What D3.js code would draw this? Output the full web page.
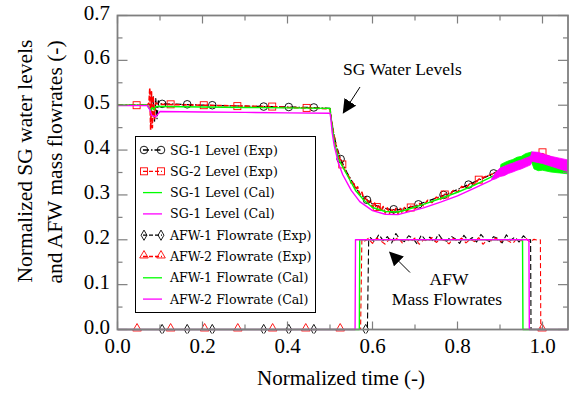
<!DOCTYPE html>
<html><head><meta charset="utf-8">
<script src="https://cdn.jsdelivr.net/npm/d3@7"></script>
<style>
html,body{margin:0;padding:0;background:#fff;}
svg{display:block;}
text{font-family:"Liberation Serif","Times New Roman",serif;fill:#000;}
text.leg{font-family:"DejaVu Serif",serif;}
</style></head>
<body>
<svg id="chart" width="569" height="394"></svg>
<script>
// ---------- DATA ----------
const xTicks = [0.0, 0.2, 0.4, 0.6, 0.8, 1.0];
const yTicks = [0.0, 0.1, 0.2, 0.3, 0.4, 0.5, 0.6, 0.7];
const legendLabels = ["SG-1 Level (Exp)", "SG-2 Level (Exp)", "SG-1 Level (Cal)", "SG-1 Level (Cal)",
  "AFW-1 Flowrate (Exp)", "AFW-2 Flowrate (Exp)", "AFW-1 Flowrate (Cal)", "AFW-2 Flowrate (Cal)"];

const sg1Exp = [[0,0.5],[0.07,0.5],[0.08,0.502],[0.084,0.52],[0.087,0.462],[0.09,0.515],[0.093,0.47],[0.096,0.51],[0.1,0.503],
  [0.15,0.502],[0.2,0.5],[0.25,0.499],[0.3,0.498],[0.35,0.497],[0.4,0.496],[0.45,0.495],[0.5,0.493],[0.503,0.47],[0.508,0.44],
  [0.515,0.41],[0.525,0.38],[0.54,0.35],[0.555,0.325],[0.57,0.303],[0.587,0.289],[0.6,0.28],[0.62,0.272],[0.64,0.268],[0.66,0.267],
  [0.68,0.27],[0.7,0.276],[0.72,0.283],[0.75,0.293],[0.78,0.304],[0.8,0.312],[0.83,0.325],[0.86,0.337],[0.9,0.355],[0.94,0.372],
  [0.97,0.385],[1.0,0.39],[1.03,0.38],[1.06,0.372]];
const sg1ExpMarks = [[0.105,0.503],[0.164,0.502],[0.223,0.5],[0.344,0.497],[0.403,0.496],[0.462,0.495],[0.525,0.38],[0.587,0.289],
  [0.65,0.268],[0.708,0.279],[0.767,0.3],[0.826,0.323],[0.885,0.348]];

const sg2Exp = [[0,0.5],[0.07,0.5],[0.074,0.505],[0.076,0.538],[0.078,0.445],[0.08,0.53],[0.082,0.45],[0.084,0.52],[0.087,0.47],
  [0.09,0.505],[0.1,0.502],[0.15,0.501],[0.2,0.5],[0.25,0.499],[0.3,0.498],[0.35,0.497],[0.4,0.495],[0.45,0.494],[0.5,0.492],
  [0.503,0.47],[0.508,0.44],[0.515,0.405],[0.525,0.375],[0.535,0.355],[0.545,0.34],[0.55,0.326],[0.555,0.33],[0.56,0.312],
  [0.565,0.318],[0.57,0.3],[0.575,0.306],[0.58,0.29],[0.585,0.296],[0.59,0.28],[0.595,0.288],[0.6,0.272],[0.605,0.282],
  [0.61,0.268],[0.615,0.278],[0.62,0.263],[0.625,0.274],[0.63,0.26],[0.635,0.271],[0.64,0.259],[0.645,0.27],[0.65,0.258],
  [0.655,0.27],[0.66,0.259],[0.665,0.27],[0.67,0.26],[0.675,0.272],[0.68,0.263],[0.69,0.275],[0.7,0.268],[0.71,0.281],
  [0.72,0.276],[0.73,0.288],[0.74,0.283],[0.75,0.295],[0.76,0.29],[0.77,0.302],[0.78,0.298],[0.79,0.31],[0.8,0.306],
  [0.81,0.319],[0.82,0.315],[0.83,0.327],[0.84,0.324],[0.85,0.335],[0.87,0.342],[0.9,0.354],[0.94,0.371],[0.97,0.384],
  [1.0,0.392],[1.03,0.38],[1.06,0.372]];
const sg2ExpMarks = [[0.045,0.5],[0.125,0.502],[0.203,0.5],[0.282,0.498],[0.364,0.497],[0.445,0.494],[0.529,0.368],
  [0.61,0.273],[0.69,0.272],[0.77,0.301],[0.85,0.334],[1.0,0.395]];

const sg1Cal = [[0,0.5],[0.07,0.5],[0.078,0.488],[0.082,0.495],[0.086,0.49],[0.09,0.497],[0.1,0.497],[0.2,0.496],[0.3,0.495],
  [0.4,0.494],[0.5,0.493],[0.502,0.475],[0.51,0.42],[0.52,0.38],[0.54,0.345],[0.56,0.31],[0.58,0.288],[0.6,0.272],[0.63,0.263],
  [0.66,0.262],[0.68,0.267],[0.72,0.279],[0.76,0.292],[0.8,0.306],[0.84,0.322],[0.88,0.34],[0.9,0.35]];
const sg1CalBand = [[0.9,0.35,0.352],[0.902,0.352,0.368],[0.91,0.353,0.372],[0.92,0.356,0.376],[0.93,0.358,0.379],
  [0.94,0.362,0.384],[0.95,0.364,0.386],[0.96,0.368,0.392],[0.975,0.372,0.396],[0.98,0.358,0.39],[0.99,0.354,0.386],
  [1.0,0.355,0.385],[1.02,0.351,0.38],[1.04,0.349,0.378],[1.06,0.347,0.376]];

const sg2Cal = [[0,0.499],[0.07,0.499],[0.076,0.49],[0.08,0.478],[0.09,0.474],[0.095,0.48],[0.1,0.486],[0.2,0.485],[0.3,0.484],
  [0.4,0.483],[0.5,0.482],[0.502,0.47],[0.505,0.44],[0.51,0.41],[0.52,0.37],[0.53,0.345],[0.55,0.31],[0.57,0.285],[0.6,0.265],
  [0.63,0.257],[0.66,0.256],[0.68,0.261],[0.72,0.271],[0.76,0.284],[0.8,0.298],[0.84,0.315],[0.88,0.333]];
const sg2CalBand = [[0.88,0.333,0.336],[0.89,0.336,0.35],[0.9,0.341,0.36],[0.91,0.343,0.364],[0.92,0.348,0.368],
  [0.93,0.351,0.371],[0.94,0.355,0.375],[0.95,0.358,0.378],[0.96,0.362,0.382],[0.972,0.367,0.386],[0.975,0.375,0.396],
  [0.99,0.372,0.395],[1.0,0.37,0.392],[1.02,0.364,0.386],[1.04,0.358,0.382],[1.06,0.352,0.378]];

const afw1Exp = [[0,0],[0.588,0],[0.591,0.2],[0.595,0.205],[0.605,0.195],[0.615,0.212],[0.625,0.198],[0.635,0.207],[0.645,0.193],
  [0.655,0.214],[0.665,0.2],[0.675,0.196],[0.685,0.209],[0.695,0.203],[0.705,0.191],[0.715,0.211],[0.725,0.199],[0.735,0.206],
  [0.745,0.194],[0.755,0.213],[0.765,0.2],[0.775,0.197],[0.785,0.208],[0.795,0.202],[0.805,0.192],[0.815,0.21],[0.825,0.198],
  [0.835,0.205],[0.845,0.195],[0.855,0.212],[0.865,0.201],[0.875,0.196],[0.885,0.207],[0.895,0.203],[0.905,0.193],[0.915,0.211],
  [0.925,0.199],[0.935,0.206],[0.945,0.195],[0.955,0.209],[0.965,0.2],[0.972,0.2],[0.973,0],[1.06,0]];
const afw1ExpMarks = [[0.105,0],[0.164,0],[0.223,0],[0.344,0],[0.403,0],[0.462,0],[0.584,0]];

const afw2Exp = [[0,0],[0.572,0],[0.575,0.2],[0.58,0.196],[0.59,0.203],[0.6,0.192],[0.61,0.204],[0.62,0.197],[0.63,0.19],
  [0.64,0.202],[0.65,0.198],[0.66,0.205],[0.67,0.193],[0.68,0.201],[0.69,0.196],[0.7,0.204],[0.71,0.19],[0.72,0.2],[0.73,0.197],
  [0.74,0.205],[0.75,0.194],[0.76,0.202],[0.77,0.198],[0.78,0.191],[0.79,0.203],[0.8,0.197],[0.81,0.204],[0.82,0.193],
  [0.83,0.201],[0.84,0.196],[0.85,0.205],[0.86,0.19],[0.87,0.2],[0.88,0.198],[0.89,0.204],[0.9,0.194],[0.91,0.202],
  [0.92,0.197],[0.93,0.192],[0.94,0.203],[0.95,0.198],[0.96,0.204],[0.97,0.195],[0.98,0.201],[0.99,0.199],[0.995,0.2],
  [0.996,0],[1.06,0]];
const afw2ExpMarks = [[0.046,0],[0.125,0],[0.205,0],[0.283,0],[0.365,0],[0.443,0],[0.524,0],[0.999,0]];

const afw1Cal = [[0,0],[0.569,0],[0.57,0.2],[0.953,0.2],[0.954,0],[1.06,0]];
const afw2Cal = [[0,0],[0.559,0],[0.56,0.2],[0.968,0.2],[0.969,0],[1.06,0]];

// ---------- LAYOUT ----------
const svg = d3.select("#chart");
const L = 117.5, R = 568, T = 15.5, B = 329.5;
const x = d3.scaleLinear().domain([0, 1.06]).range([L, R]);
const y = d3.scaleLinear().domain([0, 0.7]).range([B, T]);
const GREEN = "#00ff00", MAG = "#ff00ff", RED = "#ff0000";

const line = d3.line().x(d => x(d[0])).y(d => y(d[1]));
const band = d3.area().x(d => x(d[0])).y0(d => y(d[1])).y1(d => y(d[2]));

const plot = svg.append("g");
plot.append("clipPath").attr("id", "clip").append("rect")
  .attr("x", L).attr("y", T).attr("width", R - L).attr("height", B - T + 4);
const g = plot.append("g").attr("clip-path", "url(#clip)");

function drawLine(data, color, width, dash) {
  g.append("path").datum(data).attr("d", line).attr("fill", "none")
    .attr("stroke", color).attr("stroke-width", width)
    .attr("stroke-dasharray", dash || null).attr("stroke-linejoin", "round");
}
function marker(sel, type, color, cx, cy) {
  if (type === "circle") {
    sel.append("circle").attr("cx", cx).attr("cy", cy).attr("r", 3.8)
      .attr("fill", "none").attr("stroke", color).attr("stroke-width", 0.9);
  } else if (type === "square") {
    sel.append("rect").attr("x", cx - 3.5).attr("y", cy - 3.5).attr("width", 7).attr("height", 7)
      .attr("fill", "none").attr("stroke", color).attr("stroke-width", 0.9);
  } else if (type === "diamond") {
    sel.append("path").attr("d", d3.symbol(d3.symbolDiamond, 30)()).attr("transform", `translate(${cx},${cy})`)
      .attr("fill", "none").attr("stroke", color).attr("stroke-width", 0.9);
  } else if (type === "triangle") {
    sel.append("path").attr("d", d3.symbol(d3.symbolTriangle, 32)()).attr("transform", `translate(${cx},${cy - 1})`)
      .attr("fill", "none").attr("stroke", color).attr("stroke-width", 0.9);
  }
}
function drawMarks(data, type, color) {
  data.forEach(d => marker(g, type, color, x(d[0]), y(d[1])));
}

// Experimental (drawn first)
drawLine(afw1Exp, "#000", 1.1, "6,3");
drawLine(afw2Exp, RED, 1.1, "5,3");
drawLine(sg1Exp, "#000", 1.2, "6,2,1.5,2");
drawLine(sg2Exp, RED, 1.6, "5,2");
drawMarks(sg1ExpMarks, "circle", "#000");
drawMarks(sg2ExpMarks, "square", RED);
drawMarks(afw1ExpMarks, "diamond", "#000");
drawMarks(afw2ExpMarks, "triangle", RED);
// Calculated
drawLine(afw1Cal, GREEN, 1.4);
drawLine(afw2Cal, MAG, 1.4);
drawLine(sg1Cal, GREEN, 1.4);
g.append("path").datum(sg1CalBand).attr("d", band).attr("fill", GREEN).attr("stroke", GREEN).attr("stroke-width", 0.8);
drawLine(sg2Cal, MAG, 1.4);
g.append("path").datum(sg2CalBand).attr("d", band).attr("fill", MAG).attr("stroke", MAG).attr("stroke-width", 0.8);

// ---------- AXES / FRAME ----------
const AX = "#7f7f7f";
const ax = svg.append("g");
const xMinor = d3.range(0, 1.06, 0.1);
const yMinor = d3.range(0, 0.701, 0.05);
xMinor.forEach((v, i) => {
  const len = (i % 2 === 0) ? 8 : 5;
  ax.append("line").attr("x1", x(v)).attr("x2", x(v)).attr("y1", B).attr("y2", B - len).attr("stroke", AX).attr("stroke-width", 1.2);
  ax.append("line").attr("x1", x(v)).attr("x2", x(v)).attr("y1", T).attr("y2", T + len).attr("stroke", AX).attr("stroke-width", 1.2);
});
yMinor.forEach((v, i) => {
  const len = (i % 2 === 0) ? 10 : 5;
  ax.append("line").attr("x1", L).attr("x2", L + len).attr("y1", y(v)).attr("y2", y(v)).attr("stroke", AX).attr("stroke-width", 1.2);
  ax.append("line").attr("x1", R).attr("x2", R - len).attr("y1", y(v)).attr("y2", y(v)).attr("stroke", AX).attr("stroke-width", 1.2);
});
ax.append("rect").attr("x", L).attr("y", T).attr("width", R - L).attr("height", B - T)
  .attr("fill", "none").attr("stroke", AX).attr("stroke-width", 1.8);

xTicks.forEach(v => {
  svg.append("text").attr("x", x(v)).attr("y", 353).attr("text-anchor", "middle")
    .style("font-size", "21px").text(v.toFixed(1));
});
yTicks.forEach(v => {
  svg.append("text").attr("x", 110).attr("y", y(v) + 4).attr("text-anchor", "end")
    .style("font-size", "21px").text(v.toFixed(1));
});
svg.append("text").attr("x", 341).attr("y", 385).attr("text-anchor", "middle")
  .style("font-size", "21px").text("Normalized time (-)");
svg.append("text").attr("transform", "translate(32,161) rotate(-90)").attr("text-anchor", "middle")
  .style("font-size", "21.5px").text("Normalized SG water levels");
svg.append("text").attr("transform", "translate(62,162) rotate(-90)").attr("text-anchor", "middle")
  .style("font-size", "21.5px").text("and AFW mass flowrates (-)");

// ---------- ANNOTATIONS ----------
const defs = svg.append("defs");
defs.append("marker").attr("id", "arr").attr("viewBox", "0 0 10 10").attr("refX", 9).attr("refY", 5)
  .attr("markerWidth", 14).attr("markerHeight", 14).attr("markerUnits", "userSpaceOnUse").attr("orient", "auto")
  .append("path").attr("d", "M0,0 L10,5 L0,10 Z").attr("fill", "#000");
svg.append("text").attr("x", 343).attr("y", 75).style("font-size", "17.5px").text("SG Water Levels");
svg.append("line").attr("x1", 360).attr("y1", 87).attr("x2", 343.5).attr("y2", 112.5)
  .attr("stroke", "#000").attr("stroke-width", 1).attr("marker-end", "url(#arr)");
svg.append("text").attr("x", 449).attr("y", 285).attr("text-anchor", "middle").style("font-size", "17.5px").text("AFW");
svg.append("text").attr("x", 447).attr("y", 305).attr("text-anchor", "middle").style("font-size", "17.5px").text("Mass Flowrates");
svg.append("line").attr("x1", 410).attr("y1", 272.5).attr("x2", 390).attr("y2", 252.5)
  .attr("stroke", "#000").attr("stroke-width", 1).attr("marker-end", "url(#arr)");

// ---------- LEGEND ----------
const legendStyles = [
  {c: "#000", dash: "6,2,1.5,2", m: "circle"},
  {c: RED, dash: "4,2", m: "square"},
  {c: GREEN, dash: null, m: null},
  {c: MAG, dash: null, m: null},
  {c: "#000", dash: "4,2", m: "diamond"},
  {c: RED, dash: "4,2", m: "triangle"},
  {c: GREEN, dash: null, m: null},
  {c: MAG, dash: null, m: null}
];
const lg = svg.append("g");
lg.append("rect").attr("x", 135.5).attr("y", 136.5).attr("width", 180).attr("height", 176)
  .attr("fill", "#fff").attr("stroke", "#000").attr("stroke-width", 1);
legendLabels.forEach((lab, i) => {
  const yy = 150 + i * 21.3;
  const s = legendStyles[i];
  lg.append("line").attr("x1", 143).attr("x2", 162).attr("y1", yy).attr("y2", yy)
    .attr("stroke", s.c).attr("stroke-width", 1.3).attr("stroke-dasharray", s.dash);
  if (s.m) { marker(lg, s.m, s.c, 144, yy); marker(lg, s.m, s.c, 161, yy); }
  lg.append("text").attr("class", "leg").attr("x", 170).attr("y", yy + 4.5)
    .style("font-size", "12.6px").text(lab);
});
</script>
</body></html>
